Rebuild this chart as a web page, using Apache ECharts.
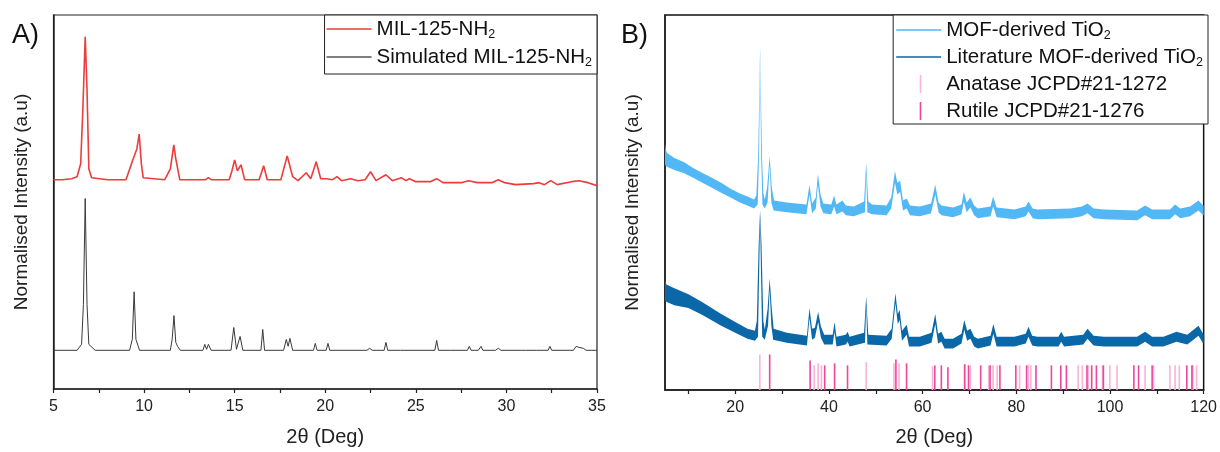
<!DOCTYPE html>
<html><head><meta charset="utf-8">
<script src="https://cdn.jsdelivr.net/npm/echarts@6/dist/echarts.min.js"></script>
<style>html,body{margin:0;padding:0;background:#fff}#c{width:1220px;height:452px}</style>
</head><body><div id="c"></div>
<script>
// ---------- Panel A data: [2θ, intensity (a.u.)] ----------
const milExp = [[5.0,216],[5.5,216],[6.0,217],[6.3,219],[6.5,232],[6.62,287],[6.75,360],[6.85,307],[6.95,227],[7.1,218],[8.0,216],[9.0,216],[9.1,216],[9.4,237],[9.6,247],[9.73,262],[9.85,232],[9.95,218],[10.05,216],[11.14,216],[11.45,227],[11.64,251],[11.75,237],[11.97,216],[13.4,216],[13.55,218],[13.7,216],[14.7,216],[14.85,225],[15.0,236],[15.15,225],[15.35,231],[15.55,216],[16.35,216],[16.6,230],[16.8,216],[17.55,216],[17.9,240],[18.2,219],[18.5,215],[18.95,223],[19.2,217],[19.5,234],[19.75,217],[20.1,217],[20.2,219],[20.4,216],[20.65,219],[20.9,215],[21.4,217],[21.8,215],[22.2,216],[22.5,224],[22.8,215],[23.35,221],[23.7,215],[24.2,218],[24.45,215],[24.65,217],[25.0,214],[25.8,214],[26.15,217],[26.5,213],[27.5,213],[27.9,215],[28.4,213],[29.2,213],[29.55,216],[29.9,213],[30.5,211],[31.5,212],[31.8,213],[32.1,211],[32.45,215],[32.8,211],[33.6,214],[34.0,215],[34.5,213],[35.0,210]];
const milSim = [[5.0,44],[6.3,44],[6.55,50],[6.65,90],[6.75,197],[6.85,90],[6.95,50],[7.3,44],[9.2,44],[9.35,55],[9.45,103],[9.55,55],[9.75,44],[11.45,44],[11.55,55],[11.65,79],[11.75,52],[11.85,48],[12.0,44],[13.25,44],[13.35,50],[13.45,45],[13.55,50],[13.7,44],[14.8,44],[14.95,67],[15.1,45],[15.2,46],[15.3,58],[15.45,44],[16.45,44],[16.55,65],[16.65,44],[17.7,44],[17.85,55],[17.95,48],[18.05,56],[18.2,44],[19.35,44],[19.45,51],[19.55,44],[20.05,44],[20.15,51],[20.25,44],[22.3,44],[22.45,46],[22.6,44],[23.25,44],[23.35,52],[23.45,44],[24.15,44],[24.25,46],[24.35,44],[26.05,44],[26.15,54],[26.25,44],[26.9,44],[26.95,45],[27.0,44],[27.85,44],[27.95,48],[28.05,44],[28.25,44],[28.35,46],[28.45,44],[28.6,48],[28.7,44],[29.4,44],[29.55,46],[29.7,44],[30.85,44],[30.95,46],[31.05,44],[31.65,44],[31.75,45],[31.85,44],[32.3,44],[32.4,48],[32.5,44],[33.7,44],[33.85,48],[34.0,47],[34.1,48],[34.25,46],[34.4,44],[34.7,44],[34.8,46],[34.9,44],[35.0,44]];

// ---------- Panel B data: noisy band upper / lower envelopes [2θ, intensity] ----------
const mofUpper = [[5.0,252],[5.2,245],[5.5,242],[7,237],[9,233],[11,227],[13,222],[15,217],[17,212],[19,206],[21,201],[22.6,198],[24.0,195],[24.5,199],[24.9,240],[25.3,349],[25.7,240],[26.0,202],[26.3,195],[26.8,207],[27.35,239],[27.8,207],[28.3,194],[31,192],[35.2,190],[35.85,210],[36.4,191],[37.2,197],[37.65,221],[38.2,200],[38.8,191],[40.5,190],[41.1,199],[41.6,190],[42.9,194],[43.6,189],[45.3,188],[47.5,193],[47.95,232],[48.4,193],[49.2,190],[52.3,189],[53.3,197],[54.1,224],[54.6,212],[55.2,214],[55.8,194],[56.6,196],[57.3,189],[59.4,188],[61.8,191],[62.7,210],[63.4,192],[64.0,189],[66.5,187],[68.3,190],[68.8,203],[69.4,192],[70.2,197],[71.0,189],[71.8,186],[74.5,188],[75.05,198],[75.8,187],[79.6,185],[82.0,188],[82.6,193],[83.5,186],[84.5,185],[91.6,186],[94.0,188],[95.2,191],[96.5,186],[98.7,185],[105.8,184],[107.5,189],[109,185],[112.8,185],[113.9,190],[115,186],[117.1,188],[118.9,194],[119.9,189],[120,189]];
const mofLower = [[5.0,230],[5.5,228],[7,225],[9,222],[11,217],[13,212],[15,207],[17,202],[19,197],[21,192],[22.6,189],[24.0,186],[24.8,190],[25.1,245],[25.3,340],[25.5,245],[25.8,190],[26.3,186],[26.9,192],[27.35,230],[27.7,192],[28.2,184],[31,182],[35.2,180],[35.85,200],[36.4,181],[37.2,186],[37.65,210],[38.2,188],[38.8,181],[40.5,180],[41.1,188],[41.6,180],[42.9,183],[43.6,179],[45.3,178],[47.7,182],[47.95,222],[48.2,182],[49.2,180],[52.3,179],[53.3,186],[54.1,212],[54.6,200],[55.2,203],[55.8,184],[56.6,186],[57.3,179],[59.4,178],[61.8,181],[62.7,200],[63.4,182],[64.0,179],[66.5,177],[68.3,180],[68.8,193],[69.4,182],[70.2,187],[71.0,179],[71.8,176],[74.5,178],[75.05,188],[75.8,177],[79.6,175],[82.0,178],[82.6,183],[83.5,176],[84.5,175],[91.6,176],[94.0,178],[95.2,181],[96.5,176],[98.7,175],[105.8,174],[107.5,179],[109,175],[112.8,175],[113.9,180],[115,176],[117.1,178],[118.9,184],[119.9,179],[120,179]];
const litUpper = [[5.0,114],[5.3,109],[7,105],[10,99],[13,91],[17,79],[20,71],[22.6,64],[24.2,62],[24.6,72],[25.0,150],[25.3,184],[25.6,150],[26.0,72],[26.3,63],[26.9,84],[27.35,115],[27.8,84],[28.2,64],[31,60],[35.3,57],[35.85,85],[36.4,64],[37.0,65],[37.7,81],[38.3,66],[39.0,58],[40.8,58],[41.2,71],[41.6,56],[43.6,58],[44.0,61],[44.4,56],[47.5,60],[47.95,97],[48.4,58],[52.3,57],[53.4,64],[54.2,100],[54.7,79],[55.1,83],[55.6,62],[56.6,68],[57.1,56],[59.4,56],[61.9,60],[62.7,79],[63.3,59],[64.0,61],[64.7,54],[66.5,54],[68.3,59],[68.9,73],[69.5,62],[70.2,64],[71.0,56],[71.8,54],[74.5,57],[75.1,69],[75.8,56],[79.6,56],[82.0,59],[82.6,66],[83.4,57],[84.5,56],[89.0,56],[89.6,61],[90.2,56],[94.3,58],[95.2,64],[96.5,57],[98.7,56],[105.8,56],[107.5,61],[109,56],[111.4,56],[114.2,61],[116.5,58],[118.9,67],[119.9,59],[120,59]];
const litLower = [[5.0,92],[7,88],[10,85],[13,78],[17,67],[20,60],[22.6,54],[24.2,52],[24.85,56],[25.1,120],[25.3,174],[25.5,120],[25.75,56],[26.3,53],[27.0,67],[27.35,104],[27.7,67],[28.1,53],[31,50],[35.3,47],[35.85,75],[36.4,53],[37.0,55],[37.7,71],[38.3,55],[39.0,48],[40.8,48],[41.2,61],[41.6,46],[43.6,48],[44.0,51],[44.4,46],[47.7,50],[47.95,87],[48.2,48],[52.3,47],[53.4,54],[54.2,90],[54.7,69],[55.1,73],[55.6,52],[56.6,58],[57.1,46],[59.4,46],[61.9,50],[62.7,69],[63.3,49],[64.0,51],[64.7,44],[66.5,44],[68.3,49],[68.9,63],[69.5,52],[70.2,54],[71.0,46],[71.8,44],[74.5,47],[75.1,59],[75.8,46],[79.6,46],[82.0,49],[82.6,56],[83.4,47],[84.5,46],[89.0,46],[89.6,51],[90.2,46],[94.3,48],[95.2,54],[96.5,47],[98.7,46],[105.8,46],[107.5,51],[109,46],[111.4,46],[114.2,51],[116.5,48],[118.9,57],[119.9,49],[120,49]];

// reference patterns: [2θ, stick height]
const anatase = [[25.25,38],[36.85,27],[37.7,29],[38.4,27],[47.95,30],[53.9,29],[54.96,29],[62.1,26],[68.9,28],[70.2,27],[74.1,27],[75.05,27],[75.9,27],[80.7,27],[82.6,28],[83.1,27],[93.2,27],[94.1,27],[95.4,27],[98.4,27],[99.97,27],[101.5,27],[107.5,27],[109.3,27],[112.8,27],[113.9,27],[114.8,27],[117.7,27],[118.5,27]];
const rutile = [[27.35,38],[35.98,32],[39.1,27],[41.2,29],[43.97,27],[54.3,33],[56.57,29],[62.6,27],[64.0,27],[65.4,25],[69.0,28],[69.8,27],[72.4,27],[74.4,27],[76.5,27],[79.9,27],[82.2,27],[84.2,27],[87.5,27],[89.5,27],[90.7,27],[95.1,27],[96.1,27],[97.1,27],[98.6,27],[105.1,27],[106.1,27],[109.0,27],[116.4,27],[117.5,27]];

const ticksA = [5,10,15,20,25,30,35];
const labelsB = [20,40,60,80,100,120];
const ticksB = [10,20,30,40,50,60,70,80,90,100,110,120];

// ---------- chart ----------
const FONT = "'Liberation Sans', Arial, sans-serif";
const yMinA = 5, yMaxA = 382, yMinB = 2, yMaxB = 382;
const chart = echarts.init(document.getElementById('c'), null, {renderer: 'canvas'});

function bandRender(upper, lower) {
  return function (params, api) {
    if (params.dataIndex !== 0) return null;
    const pts = [];
    for (let i = 0; i < upper.length; i++) pts.push(api.coord(upper[i]));
    for (let i = lower.length - 1; i >= 0; i--) pts.push(api.coord(lower[i]));
    return {type: 'polygon', shape: {points: pts}, style: {fill: api.visual('color')}};
  };
}
function stickRender(params, api) {
  const x = api.value(0);
  const a = api.coord([x, yMinB]);
  const b = api.coord([x, api.value(1)]);
  return {type: 'line', shape: {x1: a[0], y1: a[1], x2: b[0], y2: b[1]},
    style: {stroke: api.visual('color'), lineWidth: 1.6}};
}

const lineIcon = 'path://M0,0h45v0.01h-45z M0,8.25h45v1.6h-45z M0,17.99h45v0.01h-45z';
const stickIcon = 'path://M0,0h0.01v0.01h-0.01z M23.5,0h1.6v18h-1.6z M44.99,17.99h0.01v0.01h-0.01z';
const subFmt = n => n.replace(/NH2$/, 'NH{s|2}').replace(/TiO2$/, 'TiO{s|2}');
const legendText = {fontSize: 20.5, color: '#111', fontFamily: FONT, lineHeight: 24,
  rich: {s: {fontSize: 12.5, lineHeight: 12, verticalAlign: 'bottom', fontFamily: FONT, color: '#111'}}};

const xAxisCommon = {
  type: 'value', splitLine: {show: false},
  axisLine: {onZero: false, lineStyle: {color: '#222', width: 1.5}},
  axisTick: {show: true, inside: false, length: 4, lineStyle: {color: '#222', width: 1.2}},
  axisLabel: {fontSize: 16, color: '#222', fontFamily: FONT, margin: 10},
  nameLocation: 'middle', nameTextStyle: {fontSize: 20, color: '#222', fontFamily: FONT}
};
const yAxisCommon = {
  type: 'value', splitLine: {show: false}, axisTick: {show: false}, axisLabel: {show: false},
  axisLine: {show: true, onZero: false, lineStyle: {color: '#222', width: 1.5}},
  nameLocation: 'middle', nameTextStyle: {fontSize: 19, color: '#222', fontFamily: FONT}
};

chart.setOption({
  animation: false,
  backgroundColor: '#fff',
  grid: [
    {left: 53.5, right: 623, top: 15, bottom: 60, show: true, borderColor: '#222', borderWidth: 1.2, backgroundColor: 'transparent'},
    {left: 665, right: 12, top: 15, bottom: 57, show: true, borderColor: '#111', borderWidth: 1.5, backgroundColor: 'transparent'}
  ],
  xAxis: [
    Object.assign({}, xAxisCommon, {gridIndex: 0, min: 5, max: 35, interval: 2.5,
      name: '2θ (Deg)', nameGap: 38,
      axisLabel: Object.assign({}, xAxisCommon.axisLabel, {formatter: v => (ticksA.indexOf(v) >= 0 ? String(v) : '')})}),
    Object.assign({}, xAxisCommon, {gridIndex: 1, min: 5, max: 120,
      name: '2θ (Deg)', nameGap: 37,
      axisTick: Object.assign({}, xAxisCommon.axisTick, {customValues: ticksB}),
      axisLabel: Object.assign({}, xAxisCommon.axisLabel, {customValues: labelsB})})
  ],
  yAxis: [
    Object.assign({}, yAxisCommon, {gridIndex: 0, min: yMinA, max: yMaxA, name: 'Normalised Intensity (a.u)', nameGap: 22}),
    Object.assign({}, yAxisCommon, {gridIndex: 1, min: yMinB, max: yMaxB, name: 'Normalised Intensity (a.u)', nameGap: 23})
  ],
  legend: [
    {orient: 'vertical', right: 623, top: 15, itemWidth: 45, itemHeight: 18, itemGap: 4, itemTextGap: 7,
      padding: [2, 5, 5, 2], borderColor: '#222', borderWidth: 1, backgroundColor: '#fff',
      itemStyle: {borderWidth: 0}, textStyle: legendText, formatter: subFmt, selectedMode: false,
      data: [{name: 'MIL-125-NH2', icon: lineIcon}, {name: 'Simulated MIL-125-NH2', icon: lineIcon}]},
    {orient: 'vertical', right: 12, top: 15, itemWidth: 45, itemHeight: 18, itemGap: 3, itemTextGap: 7,
      padding: [3, 5, 1, 3], borderColor: '#222', borderWidth: 1, backgroundColor: '#fff',
      itemStyle: {borderWidth: 0}, textStyle: legendText, formatter: subFmt, selectedMode: false,
      data: [{name: 'MOF-derived TiO2', icon: lineIcon}, {name: 'Literature MOF-derived TiO2', icon: lineIcon},
             {name: 'Anatase JCPD#21-1272', icon: stickIcon}, {name: 'Rutile JCPD#21-1276', icon: stickIcon}]}
  ],
  graphic: [
    {type: 'text', left: 12, top: 22, style: {text: 'A)', fontSize: 27, fill: '#111', fontFamily: FONT}},
    {type: 'text', left: 621, top: 22, style: {text: 'B)', fontSize: 27, fill: '#111', fontFamily: FONT}}
  ],
  series: [
    {type: 'line', name: 'MIL-125-NH2', xAxisIndex: 0, yAxisIndex: 0, data: milExp, showSymbol: false,
      lineStyle: {color: '#ee3b3b', width: 1.6}, itemStyle: {color: '#ee3b3b'}},
    {type: 'line', name: 'Simulated MIL-125-NH2', xAxisIndex: 0, yAxisIndex: 0, data: milSim, showSymbol: false,
      lineStyle: {color: '#3a3a3a', width: 1}, itemStyle: {color: '#555555'}},
    {type: 'custom', name: 'MOF-derived TiO2', xAxisIndex: 1, yAxisIndex: 1, data: mofUpper,
      encode: {x: 0, y: 1}, renderItem: bandRender(mofUpper, mofLower), itemStyle: {color: '#52b8f5'}},
    {type: 'custom', name: 'Literature MOF-derived TiO2', xAxisIndex: 1, yAxisIndex: 1, data: litUpper,
      encode: {x: 0, y: 1}, renderItem: bandRender(litUpper, litLower), itemStyle: {color: '#0a68a8'}},
    {type: 'custom', name: 'Anatase JCPD#21-1272', xAxisIndex: 1, yAxisIndex: 1, data: anatase,
      encode: {x: 0, y: 1}, renderItem: stickRender, itemStyle: {color: '#f8b3d6'}},
    {type: 'custom', name: 'Rutile JCPD#21-1276', xAxisIndex: 1, yAxisIndex: 1, data: rutile,
      encode: {x: 0, y: 1}, renderItem: stickRender, itemStyle: {color: '#f0459d'}}
  ]
});
</script></body></html>
